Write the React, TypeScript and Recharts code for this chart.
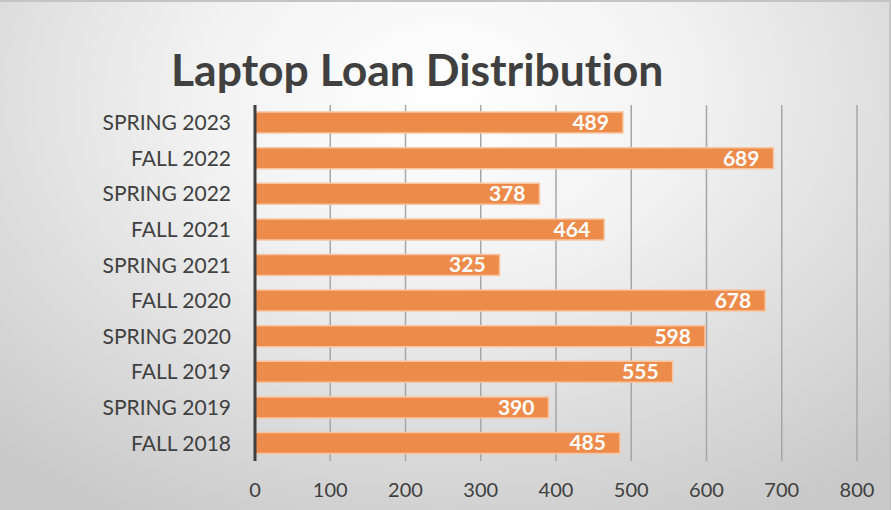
import { Bar, BarChart, CartesianGrid, LabelList, XAxis, YAxis } from "recharts";

const terms = [
  "SPRING 2023",
  "FALL 2022",
  "SPRING 2022",
  "FALL 2021",
  "SPRING 2021",
  "FALL 2020",
  "SPRING 2020",
  "FALL 2019",
  "SPRING 2019",
  "FALL 2018",
];
const loans = [489, 689, 378, 464, 325, 678, 598, 555, 390, 485];
const xTicks = [0, 100, 200, 300, 400, 500, 600, 700, 800];

const data = terms.map((term, i) => ({ term, loans: loans[i] }));

const FONT = "Lato, 'Open Sans', sans-serif";

export default function App() {
  return (
    <div
      style={{
        position: "absolute",
        left: 0,
        top: 0,
        width: 891,
        height: 510,
        boxSizing: "border-box",
        borderTop: "2px solid #c4c4c4",
        borderRight: "2px solid #c4c4c4",
        background:
          "radial-gradient(ellipse 75% 95% at 50% 18%, #ffffff 0%, #f3f3f3 35%, #d6d6d6 80%, #c9c9c9 100%)",
        fontFamily: FONT,
        overflow: "hidden",
      }}
    >
      <div
        style={{
          position: "absolute",
          left: 171,
          top: 40,
          fontSize: 44.5,
          fontWeight: 700,
          color: "#404040",
          lineHeight: 1.2,
          whiteSpace: "nowrap",
          fontVariantLigatures: "none",
        }}
      >
        Laptop Loan Distribution
      </div>
      <BarChart
        width={891}
        height={510}
        layout="vertical"
        data={data}
        barCategoryGap="20%"
        margin={{ top: 105, right: 32, left: 0, bottom: 19 }}
        style={{ position: "absolute", left: -2, top: -2 }}
      >
        <CartesianGrid
          vertical={true}
          horizontal={false}
          stroke="#a6a6a6"
          strokeWidth={1.5}
        />
        <XAxis
          type="number"
          domain={[0, 800]}
          ticks={xTicks}
          axisLine={false}
          tickLine={false}
          tickMargin={16}
          height={30}
          tick={{ fontSize: 20, fill: "#404040", fontFamily: FONT }}
        />
        <YAxis
          type="category"
          dataKey="term"
          width={257}
          axisLine={{ stroke: "#3f3f3f", strokeWidth: 3 }}
          tickLine={false}
          tickMargin={18}
          tick={{ fontSize: 21, fill: "#404040", fontFamily: FONT }}
        />
        <Bar
          dataKey="loans"
          fill="#ed8b4b"
          stroke="#f7c6a1"
          strokeWidth={1.5}
          isAnimationActive={false}
        >
          <LabelList
            dataKey="loans"
            position="insideRight"
            offset={14}
            fill="#ffffff"
            style={{ fontSize: 21, fontWeight: 700, fontFamily: FONT }}
          />
        </Bar>
      </BarChart>
    </div>
  );
}
